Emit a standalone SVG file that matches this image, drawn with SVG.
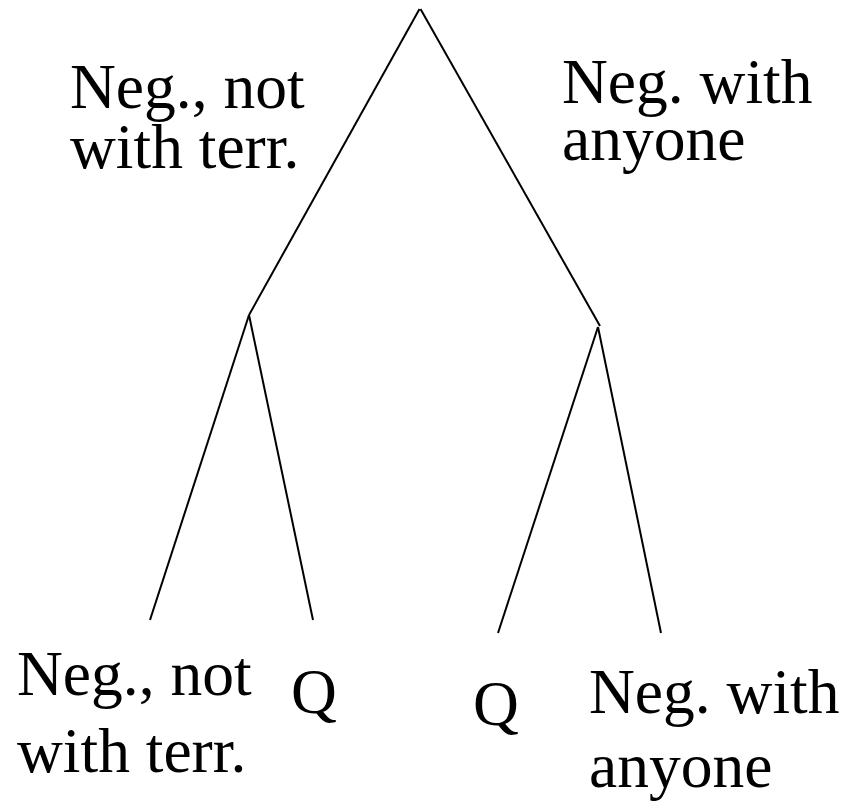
<svg xmlns="http://www.w3.org/2000/svg" width="860" height="802" viewBox="0 0 860 802">
<style>
.e{stroke:#000;stroke-width:2;fill:none}
text{font-family:"Liberation Serif","Times New Roman",serif;font-size:63.5px;fill:#000}
</style>
<rect width="860" height="802" fill="#fff"/>
<g id="connectors">
<line class="e" x1="419.5" y1="9" x2="249" y2="315"/>
<line class="e" x1="420.5" y1="9" x2="600" y2="326"/>
<line class="e" x1="249" y1="315" x2="150" y2="620"/>
<line class="e" x1="249" y1="315" x2="313" y2="620"/>
<line class="e" x1="598" y1="327" x2="498" y2="633"/>
<line class="e" x1="598" y1="327" x2="661" y2="633"/>
</g>
<g id="label-left-top">
<text x="70" y="108">Neg., not</text>
<text x="70" y="168">with terr.</text>
</g>
<g id="label-right-top">
<text x="562" y="103">Neg. with</text>
<text x="562" y="160">anyone</text>
</g>
<g id="leaf-1">
<text x="17" y="695">Neg., not</text>
<text x="17" y="772">with terr.</text>
</g>
<g id="leaf-2">
<text x="291" y="713">Q</text>
</g>
<g id="leaf-3">
<text x="473" y="725">Q</text>
</g>
<g id="leaf-4">
<text x="589" y="713">Neg. with</text>
<text x="589" y="787">anyone</text>
</g>
</svg>
